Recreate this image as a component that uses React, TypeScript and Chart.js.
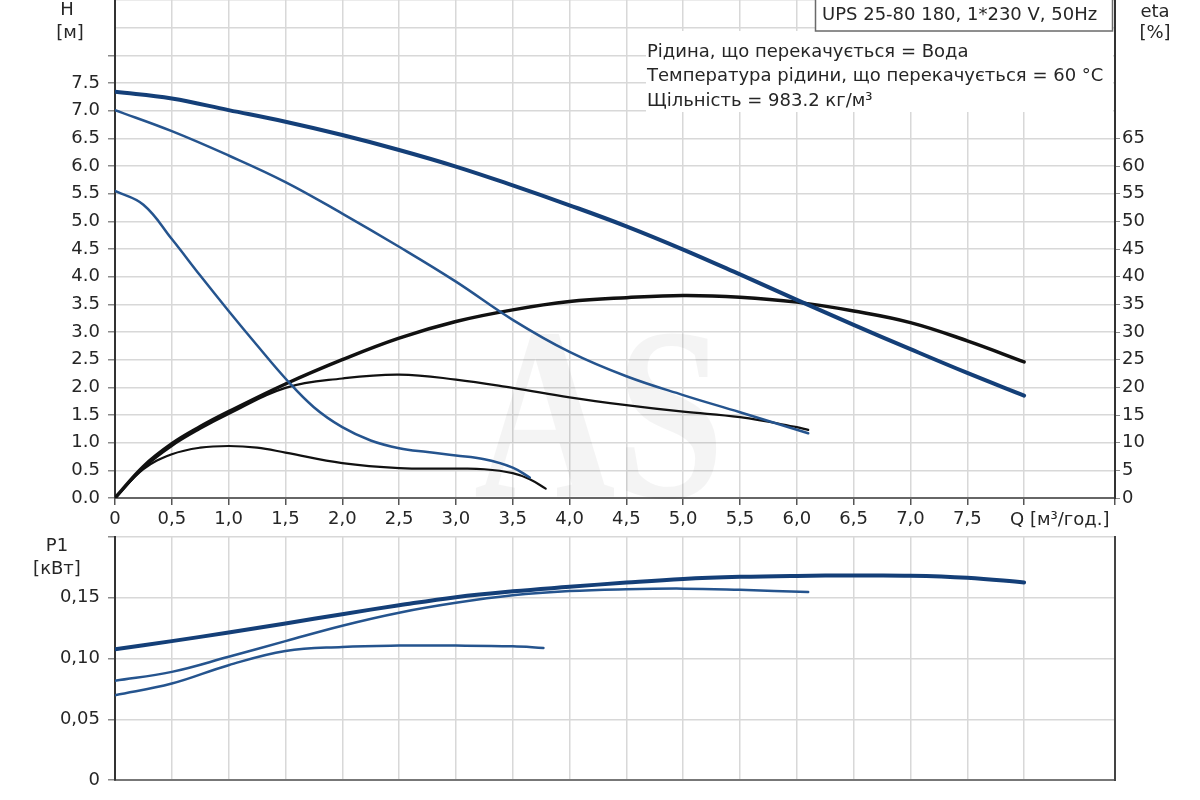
import { useEffect, useRef } from 'react';
import { Chart, registerables } from 'chart.js';

Chart.register(...registerables);

// Flow Q [м³/год.] and head H [м] for the three speeds
const qHead3 = [0, 0.5, 1, 1.5, 2, 2.5, 3, 3.5, 4, 4.5, 5, 5.5, 6, 6.5, 7, 7.5, 8];
const head3 = [7.34, 7.22, 7.01, 6.8, 6.56, 6.29, 5.99, 5.65, 5.29, 4.91, 4.49, 4.04, 3.58, 3.13, 2.69, 2.26, 1.85];
const qHead2 = [0, 0.5, 1, 1.5, 2, 2.5, 3, 3.5, 4, 4.5, 5, 5.5, 6.1];
const head2 = [7.01, 6.63, 6.19, 5.71, 5.14, 4.54, 3.91, 3.22, 2.64, 2.2, 1.86, 1.55, 1.17];
const qHead1 = [0, 0.25, 0.5, 0.75, 1, 1.25, 1.5, 1.75, 2, 2.25, 2.5, 2.75, 3, 3.25, 3.5, 3.65];
const head1 = [5.55, 5.3, 4.68, 4.02, 3.38, 2.76, 2.16, 1.64, 1.28, 1.04, 0.9, 0.83, 0.77, 0.7, 0.55, 0.37];

// Efficiency eta [%]
const qEta3 = [0, 0.25, 0.5, 0.75, 1, 1.5, 2, 2.5, 3, 3.5, 4, 4.5, 5, 5.5, 6, 6.5, 7, 7.5, 8];
const eta3 = [0, 5.7, 9.8, 12.9, 15.6, 20.6, 25.0, 28.9, 31.9, 34.0, 35.5, 36.2, 36.6, 36.3, 35.4, 33.8, 31.7, 28.4, 24.6];
const qEta2 = [0, 0.25, 0.5, 0.75, 1, 1.5, 2, 2.5, 3, 3.5, 4, 4.5, 5, 5.5, 6, 6.1];
const eta2 = [0, 5.4, 9.4, 12.5, 15.2, 19.9, 21.6, 22.3, 21.4, 19.9, 18.2, 16.8, 15.6, 14.6, 12.8, 12.3];
const qEta1 = [0, 0.25, 0.5, 0.75, 1, 1.25, 1.5, 2, 2.5, 3, 3.25, 3.5, 3.65, 3.79];
const eta1 = [0, 5.2, 7.9, 9.1, 9.4, 9.1, 8.2, 6.3, 5.4, 5.3, 5.2, 4.5, 3.4, 1.7];

// Power P1 [кВт]
const qP3 = [0, 0.5, 1, 1.5, 2, 2.5, 3, 3.5, 4, 4.5, 5, 5.5, 6, 6.5, 7, 7.5, 8];
const p3 = [0.1077, 0.1143, 0.1214, 0.1288, 0.1365, 0.1438, 0.1505, 0.1553, 0.159, 0.1625, 0.1655, 0.1672, 0.168, 0.1683, 0.1682, 0.1665, 0.1626];
const qP2 = [0, 0.5, 1, 1.5, 2, 2.5, 3, 3.5, 4, 4.5, 5, 5.5, 6.1];
const p2 = [0.0816, 0.089, 0.1014, 0.1143, 0.127, 0.1377, 0.1458, 0.152, 0.1555, 0.157, 0.1575, 0.1565, 0.1547];
const qP1 = [0, 0.5, 1, 1.5, 2, 2.5, 3, 3.5, 3.77];
const p1 = [0.0698, 0.0794, 0.0945, 0.1062, 0.1095, 0.1106, 0.1106, 0.11, 0.1087];

const modelTitle = 'UPS 25-80 180, 1*230 V, 50Hz';
const noteLines = [
  'Рідина, що перекачується = Вода',
  'Температура рідини, що перекачується = 60 °C',
  'Щільність = 983.2 кг/м³',
];

const FONT = '"DejaVu Sans", "Liberation Sans", sans-serif';
const TEXT = '#262626';
const GRID = '#d8d8d8';
const TICK = '#8a8a8a';
const BLUE = '#143f78';
const BLUE_THIN = '#25548e';
const BLACK = '#111111';

Chart.defaults.font.family = FONT;
Chart.defaults.font.size = 18;
Chart.defaults.color = TEXT;

const pts = (xs: number[], ys: number[]) => xs.map((x, i) => ({ x, y: ys[i] }));

const fixWidth = (w: number) => (scale: any) => {
  scale.width = w;
  scale.paddingTop = 0;
  scale.paddingBottom = 0;
};
const fixHeight = (h: number) => (scale: any) => {
  scale.height = h;
  scale.paddingLeft = 0;
  scale.paddingRight = 0;
};

const commaFmt = (v: number, digits: number) => (v === 0 ? '0' : v.toFixed(digits).replace('.', ','));
// hide tick marks above the last labelled value
const tickUpTo = (limit: number) => (c: any) => (c.tick && c.tick.value > limit + 1e-6 ? 'rgba(0,0,0,0)' : TICK);

const baseOptions: any = {
  animation: false,
  responsive: false,
  events: [],
  layout: { padding: 0 },
  plugins: { legend: { display: false }, tooltip: { enabled: false } },
  elements: {
    point: { radius: 0 },
    line: { tension: 0.4, borderCapStyle: 'round', borderJoinStyle: 'round' },
  },
};

const topDecor = {
  id: 'topDecor',
  beforeDatasetsDraw(chart: any) {
    const ctx = chart.ctx;
    ctx.save();
    ctx.fillStyle = 'rgba(0,0,0,0.045)';
    ctx.font = 'bold 245px "Liberation Serif", serif';
    ctx.translate(474, 497);
    ctx.scale(0.8, 1);
    ctx.fillText('AS', 0, 0);
    ctx.restore();
  },
  afterDraw(chart: any) {
    const ctx = chart.ctx;
    const area = chart.chartArea;
    const x = chart.scales.x;
    ctx.save();
    ctx.fillStyle = '#ffffff';
    ctx.fillRect(646, 31, area.right - 648, 81);
    ctx.fillRect(815, 0, area.right - 817, 31);
    ctx.strokeStyle = '#6a6a6a';
    ctx.lineWidth = 1.5;
    ctx.strokeRect(815.5, -2, area.right - 818, 33);
    ctx.fillStyle = TEXT;
    ctx.font = `18px ${FONT}`;
    ctx.textBaseline = 'middle';
    ctx.textAlign = 'left';
    ctx.fillText(modelTitle, 822, 15);
    noteLines.forEach((t, i) => ctx.fillText(t, 647, 52 + i * 24.5));
    ctx.fillText('Q [м³/год.]', x.getPixelForValue(8) - 14, 520);
    ctx.textAlign = 'center';
    ctx.fillText('H', 67, 10);
    ctx.fillText('[м]', 70, 33);
    ctx.fillText('eta', 1155, 12);
    ctx.fillText('[%]', 1155, 33);
    ctx.restore();
  },
};

const bottomDecor = {
  id: 'bottomDecor',
  afterDraw(chart: any) {
    const ctx = chart.ctx;
    ctx.save();
    ctx.fillStyle = TEXT;
    ctx.font = `18px ${FONT}`;
    ctx.textBaseline = 'middle';
    ctx.textAlign = 'center';
    ctx.fillText('P1', 57, 16);
    ctx.fillText('[кВт]', 57, 39);
    ctx.restore();
  },
};

export default function App() {
  const topRef = useRef<HTMLCanvasElement>(null);
  const bottomRef = useRef<HTMLCanvasElement>(null);

  useEffect(() => {
    if (!topRef.current || !bottomRef.current) return;

    const top = new Chart(topRef.current, {
      type: 'line',
      data: {
        datasets: [
          { data: pts(qHead3, head3), borderColor: BLUE, borderWidth: 4, yAxisID: 'y' },
          { data: pts(qHead2, head2), borderColor: BLUE_THIN, borderWidth: 2.5, yAxisID: 'y' },
          { data: pts(qHead1, head1), borderColor: BLUE_THIN, borderWidth: 2.5, yAxisID: 'y' },
          { data: pts(qEta3, eta3), borderColor: BLACK, borderWidth: 3.5, yAxisID: 'eta' },
          { data: pts(qEta2, eta2), borderColor: BLACK, borderWidth: 2.2, yAxisID: 'eta' },
          { data: pts(qEta1, eta1), borderColor: BLACK, borderWidth: 2.2, yAxisID: 'eta' },
        ],
      },
      options: {
        ...baseOptions,
        scales: {
          x: {
            type: 'linear',
            min: 0,
            max: 8.8,
            afterFit: fixHeight(37),
            ticks: {
              stepSize: 0.5,
              autoSkip: false,
              maxRotation: 0,
              padding: 4,
              callback: (v: any) => (v <= 7.5001 ? commaFmt(Number(v), 1) : ''),
            },
            grid: { color: GRID, lineWidth: 1.5, tickLength: 7, tickColor: '#555' },
            border: { color: '#666', width: 2 },
          },
          y: {
            position: 'left',
            min: 0,
            max: 9,
            afterFit: fixWidth(115),
            ticks: {
              stepSize: 0.5,
              autoSkip: false,
              padding: 8,
              callback: (v: any) => (v <= 7.5001 ? Number(v).toFixed(1) : ''),
            },
            grid: { color: GRID, lineWidth: 1.5, tickLength: 7, tickColor: tickUpTo(8) },
            border: { color: '#333', width: 2 },
          },
          eta: {
            position: 'right',
            min: 0,
            max: 90,
            afterFit: fixWidth(85),
            ticks: {
              stepSize: 5,
              autoSkip: false,
              padding: 2,
              callback: (v: any) => (v <= 65 ? String(v) : ''),
            },
            grid: { drawOnChartArea: false, tickLength: 5, tickColor: tickUpTo(65) },
            border: { color: '#333', width: 2 },
          },
        },
      },
      plugins: [topDecor],
    });

    const bottom = new Chart(bottomRef.current, {
      type: 'line',
      data: {
        datasets: [
          { data: pts(qP3, p3), borderColor: BLUE, borderWidth: 4 },
          { data: pts(qP2, p2), borderColor: BLUE_THIN, borderWidth: 2.5 },
          { data: pts(qP1, p1), borderColor: BLUE_THIN, borderWidth: 2.5 },
        ],
      },
      options: {
        ...baseOptions,
        layout: { padding: { top: 7 } },
        scales: {
          x: {
            type: 'linear',
            min: 0,
            max: 8.8,
            afterFit: fixHeight(20),
            ticks: { stepSize: 0.5, autoSkip: false, display: false },
            grid: { color: GRID, lineWidth: 1.5, drawTicks: false },
            border: { color: '#777', width: 2 },
          },
          y: {
            position: 'left',
            min: 0,
            max: 0.2,
            afterFit: fixWidth(115),
            ticks: {
              stepSize: 0.05,
              autoSkip: false,
              padding: 8,
              callback: (v: any) => (v <= 0.1501 ? commaFmt(Number(v), 2) : ''),
            },
            grid: { color: GRID, lineWidth: 1.5, tickLength: 7, tickColor: TICK },
            border: { color: '#333', width: 2 },
          },
          right: {
            position: 'right',
            min: 0,
            max: 0.2,
            afterFit: fixWidth(85),
            ticks: { display: false },
            grid: { drawOnChartArea: false, drawTicks: false },
            border: { color: '#444', width: 2 },
          },
        },
      },
      plugins: [bottomDecor],
    });

    return () => {
      top.destroy();
      bottom.destroy();
    };
  }, []);

  return (
    <div style={{ position: 'absolute', left: 0, top: 0, width: 1200, height: 800, background: '#fff' }}>
      <canvas ref={topRef} width={1200} height={535} style={{ position: 'absolute', left: 0, top: 0 }} />
      <canvas ref={bottomRef} width={1200} height={270} style={{ position: 'absolute', left: 0, top: 530 }} />
    </div>
  );
}
